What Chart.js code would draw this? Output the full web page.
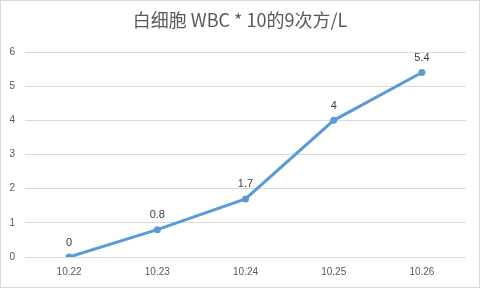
<!DOCTYPE html>
<html>
<head>
<meta charset="utf-8">
<script src="https://cdn.jsdelivr.net/npm/chart.js@4"></script>
<style>
  html, body { margin:0; padding:0; background:#fff; }
  #wrap { width:480px; height:288px; position:relative; }
</style>
</head>
<body>
<div id="wrap"><canvas id="chart"></canvas></div>
<script>
const titleText = '白细胞 WBC * 10的9次方/L';
const dates = ['10.22', '10.23', '10.24', '10.25', '10.26'];
const wbc = [0, 0.8, 1.7, 4, 5.4];
const yTicks = [0, 1, 2, 3, 4, 5, 6];

const fontFam = "'Liberation Sans', 'Noto Sans CJK SC', sans-serif";

// frame + white bg + title centred on the whole canvas
const framePlugin = {
  id: 'frame',
  beforeDraw(chart){
    const c = chart.ctx;
    c.save();
    c.fillStyle = '#fff'; c.fillRect(0, 0, chart.width, chart.height);
    c.strokeStyle = '#d9d9d9'; c.lineWidth = 1;
    c.strokeRect(0.5, 0.5, chart.width - 1, chart.height - 1);
    c.font = "18px 'Noto Sans CJK SC', sans-serif";
    c.fillStyle = '#595959';
    c.textAlign = 'center'; c.textBaseline = 'middle';
    c.fillText(titleText, chart.width / 2, 20);
    c.restore();
  }
};

// value labels above points
const labelPlugin = {
  id: 'valueLabels',
  afterDatasetsDraw(chart){
    const c = chart.ctx;
    const meta = chart.getDatasetMeta(0);
    c.save();
    c.font = '11px ' + fontFam;
    c.fillStyle = '#404040';
    c.textAlign = 'center';
    c.textBaseline = 'bottom';
    meta.data.forEach((pt, i)=>{ c.fillText(String(wbc[i]), pt.x, pt.y - 9); });
    c.restore();
  }
};

new Chart(document.getElementById('chart'), {
  type: 'line',
  data: {
    labels: dates,
    datasets: [{
      data: wbc,
      borderColor: '#5B9BD5',
      backgroundColor: '#5B9BD5',
      borderWidth: 3,
      pointRadius: 3.5,
      pointBackgroundColor: '#5B9BD5',
      pointBorderWidth: 0,
      tension: 0
    }]
  },
  options: {
    responsive: true,
    maintainAspectRatio: false,
    animation: false,
    layout: { padding: { left: 0, right: 14, top: 52, bottom: 0 } },
    plugins: {
      legend: { display: false },
      tooltip: { enabled: false },
      title: { display: false }
    },
    scales: {
      x: {
        offset: true,
        grid: { display: false, drawTicks: false },
        border: { display: false },
        ticks: { color: '#595959', font: { family: fontFam, size: 10 }, padding: 9, maxRotation: 0 },
        afterFit(s){ s.height = 31; }
      },
      y: {
        min: 0, max: 6,
        afterBuildTicks(s){ s.ticks = yTicks.map(v=>({value:v})); },
        grid: { color: '#d9d9d9', drawTicks: false },
        border: { display: false },
        ticks: { color: '#595959', font: { family: fontFam, size: 10 }, padding: 10 },
        afterFit(s){ s.width = 25; }
      }
    }
  },
  plugins: [framePlugin, labelPlugin]
});
</script>
</body>
</html>
